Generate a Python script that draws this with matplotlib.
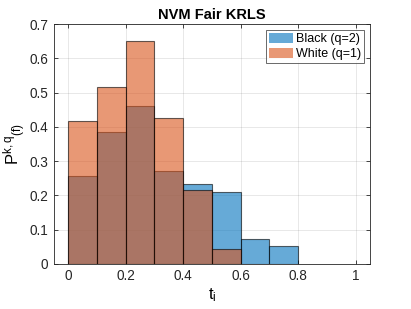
import matplotlib
matplotlib.use("Agg")
import matplotlib.pyplot as plt
import numpy as np

plt.rcParams['font.family'] = ['Liberation Sans', 'DejaVu Sans']
plt.rcParams['mathtext.fontset'] = 'custom'
plt.rcParams['mathtext.rm'] = 'Liberation Sans'
plt.rcParams['mathtext.it'] = 'Liberation Sans'

bin_edges = [0.0, 0.1, 0.2, 0.3, 0.4, 0.5, 0.6, 0.7, 0.8]
black_vals = [0.257, 0.386, 0.461, 0.270, 0.234, 0.210, 0.073, 0.052]
white_vals = [0.417, 0.515, 0.651, 0.427, 0.217, 0.044, 0.0, 0.0]
labels = ["Black (q=2)", "White (q=1)"]
title = "NVM Fair KRLS"
xticks = [0, 0.2, 0.4, 0.6, 0.8, 1]
yticks = [0, 0.1, 0.2, 0.3, 0.4, 0.5, 0.6, 0.7]

blue = (0.0, 0.447, 0.741)
orange = (0.85, 0.325, 0.098)
ax_col = (0.15, 0.15, 0.15)

fig = plt.figure(figsize=(4.11, 3.09), dpi=100)
ax = fig.add_axes([0.131, 0.146, 0.769, 0.776])

lefts = np.array(bin_edges[:-1])
widths = np.diff(bin_edges)
nz_b = [i for i, v in enumerate(black_vals) if v > 0]
nz_w = [i for i, v in enumerate(white_vals) if v > 0]
ax.bar(lefts[nz_b], [black_vals[i] for i in nz_b], width=widths[nz_b], align='edge',
       color=blue + (0.6,), edgecolor=(0, 0, 0, 0.6), linewidth=0.8, label=labels[0], zorder=2)
ax.bar(lefts[nz_w], [white_vals[i] for i in nz_w], width=widths[nz_w], align='edge',
       color=orange + (0.6,), edgecolor=(0, 0, 0, 0.6), linewidth=0.8, label=labels[1], zorder=3)

ax.set_xlim(-0.05, 1.05)
ax.set_ylim(0, 0.7)
ax.set_xticks(xticks)
ax.set_xticklabels(["0", "0.2", "0.4", "0.6", "0.8", "1"])
ax.set_yticks(yticks)
ax.set_yticklabels(["0", "0.1", "0.2", "0.3", "0.4", "0.5", "0.6", "0.7"])
ax.grid(True, color=(0.15, 0.15, 0.15), alpha=0.12, linewidth=0.6, zorder=0)
ax.set_axisbelow(True)
ax.tick_params(direction='in', length=3, width=0.6, colors=ax_col, labelsize=9.8,
               top=True, right=True, pad=4)
for s in ax.spines.values():
    s.set_color(ax_col)
    s.set_linewidth(0.6)

ax.set_title(title, fontsize=10.5, fontweight='bold', pad=4)
ax.set_xlabel(r"t$_\mathregular{i}$", fontsize=12, labelpad=2)
ax.set_ylabel(r"P$^{\mathregular{k,q}}$$_\mathregular{(f)}$", fontsize=12, labelpad=1)

leg = ax.legend(loc='upper right', fontsize=9, frameon=True, fancybox=False,
                borderpad=0.25, handlelength=1.9, handleheight=0.85, handletextpad=0.25,
                labelspacing=0.2, borderaxespad=0.45)
leg.get_frame().set_edgecolor(ax_col)
leg.get_frame().set_linewidth(0.6)
for h in leg.legend_handles:
    h.set_edgecolor((0, 0, 0, 0.0))

fig.savefig("out.png", dpi=100)
